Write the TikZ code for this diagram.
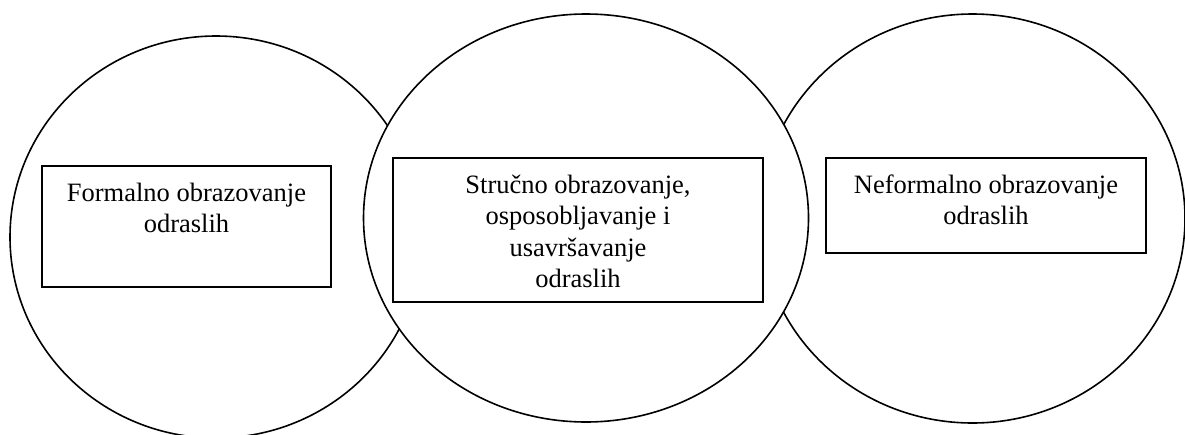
\documentclass[tikz,border=0pt]{standalone}
\usepackage{fontspec}
\setmainfont{Liberation Serif}
\usetikzlibrary{shapes.geometric}
\newcommand{\boxtext}[3]{\parbox[c][#2][t]{#1}{\centering\fontsize{26.5}{31.5}\selectfont\rule{0pt}{35pt}#3}}
\begin{document}
\begin{tikzpicture}[x=1pt,y=-1pt,
  circ/.style={ellipse,draw=black,line width=1.6pt,fill=white,inner sep=0pt},
  tbox/.style={rectangle,draw=black,line width=1.4pt,fill=white,inner sep=0pt}]
\useasboundingbox (0,0) rectangle (1185,434);
\clip (0,0) rectangle (1185,434);
\fill[white] (0,0) rectangle (1185,434);
\node[circ,minimum width=412pt,minimum height=402pt] (cl) at (216,237) {};
\node[circ,minimum width=425pt,minimum height=409pt] (cr) at (972.5,218.5) {};
\node[circ,minimum width=445pt,minimum height=408pt] (cm) at (586,218) {};
\node[tbox] (bl) at (186.5,226.5) {\boxtext{289pt}{121pt}{Formalno obrazovanje\\odraslih}};
\node[tbox] (bm) at (578,230) {\boxtext{370pt}{144pt}{Stručno obrazovanje,\\osposobljavanje i\\usavršavanje\\odraslih}};
\node[tbox] (br) at (986,205.5) {\boxtext{320pt}{95pt}{Neformalno obrazovanje\\odraslih}};
\end{tikzpicture}
\end{document}
